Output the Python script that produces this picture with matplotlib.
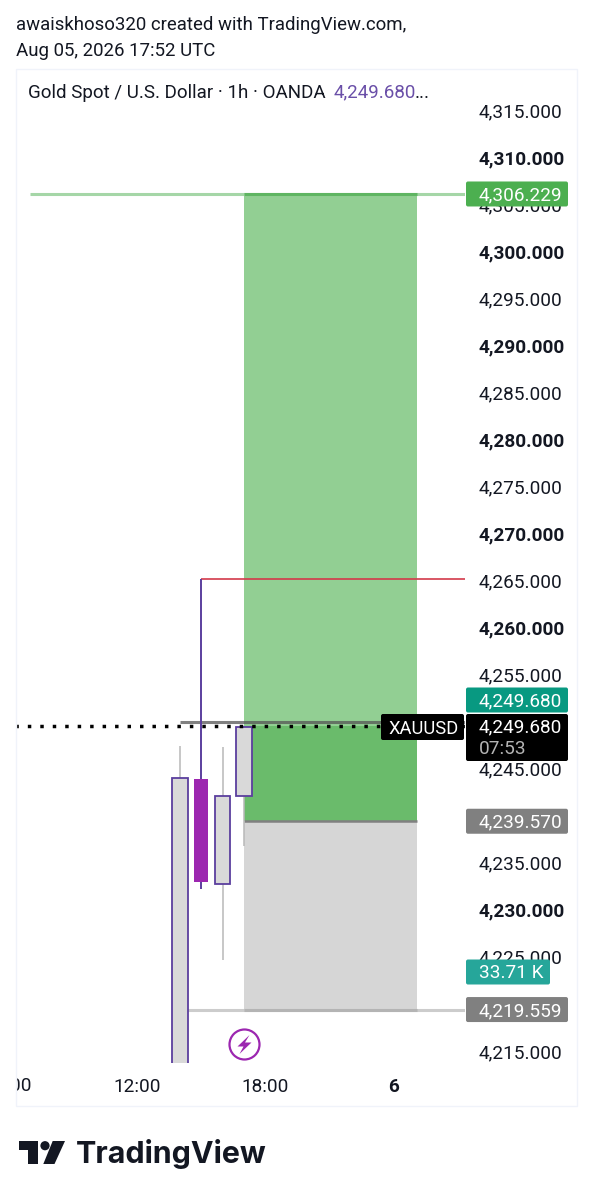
import matplotlib
matplotlib.use("Agg")
import matplotlib.pyplot as plt
from matplotlib.patches import FancyBboxPatch, Rectangle, Polygon, Circle
from matplotlib.transforms import Bbox, ScaledTranslation

plt.rcParams['font.family'] = ['Roboto', 'DejaVu Sans']

W, H = 592, 1200

# candles, hours since Aug 5 00:00
candle_hours = [14, 15, 16, 17]
opens = [4205.0, 4244.1, 4232.9, 4242.2]
closes = [4244.2, 4233.1, 4242.2, 4249.6]
highs = [4247.6, 4265.3, 4247.5, 4249.6]
lows = [4200.0, 4232.4, 4224.8, 4236.9]

price_ticks = list(range(4215, 4320, 5))
time_ticks = [12, 18, 24]
time_labels = ["12:00", "18:00", "6"]

target = 4306.229
entry = 4239.57
stop = 4219.559
last_price = 4249.68
prev_line = 4250.1
high_line = 4265.3
zone_start, zone_end = 17.0, 25.07

PURPLE = "#5b3f9e"
MAGENTA = "#9c27b0"
FS = 13.65

fig = plt.figure(figsize=(W / 100, H / 100), dpi=100, facecolor="white")


def px_axes(x0, y0, x1, y1):
    return fig.add_axes([x0 / W, 1 - y1 / H, (x1 - x0) / W, (y1 - y0) / H])


# pane goes from x 16 to the price scale at 465, bottom at 1063
ax = px_axes(16, 68, 465, 1063)
xlims = (12 + (16 - 137) / 21.4, 12 + (465 - 137) / 21.4)
ylims = (4310 - (1063 - 158.5) / 9.41, 4310 + (158.5 - 68) / 9.41)
for s in ax.spines.values():
    s.set_visible(False)

# position tool
ax.add_patch(Rectangle((zone_start, entry), zone_end - zone_start, target - entry,
                       fc="#92cf93", ec="none", zorder=1))
ax.add_patch(Rectangle((zone_start, stop), zone_end - zone_start, entry - stop,
                       fc="#d6d6d6", ec="none", zorder=1))
ax.add_patch(Rectangle((zone_start, entry), zone_end - zone_start, last_price - entry,
                       fc="#6abb6b", ec="none", zorder=1.1))

ax.hlines(target, 7, xlims[1], color="#a5d6a7", lw=2.2, zorder=1.5)
ax.hlines(target, zone_start, zone_end, color="#5fb562", lw=2.2, zorder=1.6)
ax.hlines(stop, 14, xlims[1], color="#cccccc", lw=2.2, zorder=1.5)
ax.hlines(stop, zone_start, zone_end, color="#b4b4b4", lw=2.2, zorder=1.6)
ax.hlines(entry, zone_start, zone_end, color="#808080", lw=1.8, zorder=1.6)
ax.hlines(prev_line, 14, xlims[1], color="#555555", lw=2.2, alpha=0.75, zorder=2)
ax.hlines(high_line, 15, xlims[1], color="#d3394a", lw=1.2, zorder=2)

# candles
for h, o, c, hi, lo in zip(candle_hours, opens, closes, highs, lows):
    top, bottom = max(o, c), min(o, c)
    if c < o:
        ax.vlines(h, top, hi, color=PURPLE, lw=1.4, zorder=3)
        ax.vlines(h, lo, bottom, color=PURPLE, lw=1.4, zorder=3)
        ax.bar(h, top - bottom, 0.64, bottom, color=MAGENTA, zorder=4)
    else:
        ax.vlines(h, top, hi, color="#b8b8b8", lw=1.1, zorder=3)
        ax.vlines(h, lo, bottom, color="#b8b8b8", lw=1.1, zorder=3)
        ax.bar(h, top - bottom, 0.72, bottom, fc="#d9d9d9", ec=PURPLE, lw=1.3, zorder=4)

ax.axhline(last_price, color="black", lw=2.5, ls=(0.33, (1, 2.59)), zorder=5)

# axes and tick labels
ax.yaxis.tick_right()
ax.set_yticks(price_ticks)
ax.set_yticklabels([f"{p:,.3f}" for p in price_ticks])
ax.tick_params(axis="y", length=0, pad=10, labelsize=FS, labelcolor="#131722")
up = ScaledTranslation(0, 1.5 / 100, fig.dpi_scale_trans)
for p, lab in zip(price_ticks, ax.get_yticklabels()):
    lab.set_transform(lab.get_transform() + up)
    if p % 10 == 0:
        lab.set_fontweight("bold")
ax.set_xticks(time_ticks)
ax.set_xticklabels(time_labels)
ax.tick_params(axis="x", length=0, pad=10.5, labelsize=FS, labelcolor="#131722")
ax.get_xticklabels()[2].set_fontweight("bold")
ax.set_xlim(*xlims)
ax.set_ylim(*ylims)

# the 06:00 label is cut by the left edge of the chart
cut = ax.text(6, -23 / 995, "06:00", transform=ax.get_xaxis_transform(), fontsize=FS,
              color="#131722", ha="center", va="center", clip_on=True)
cut.set_clip_box(Bbox([[16, 0], [W, H]]))

# overlay in pixel coordinates: frame, header, tags, logo
ov = fig.add_axes([0, 0, 1, 1], facecolor="none")
ov.set_xlim(0, W)
ov.set_ylim(H, 0)
ov.axis("off")


def price_y(p):
    return H - ax.transData.transform((xlims[0], p))[1]


ov.add_patch(Rectangle((15.5, 68.5), 561, 1037, fc="none", ec="#f0f3fa", lw=1))

ov.text(16, 25.5, "awaiskhoso320 created with TradingView.com,", fontsize=13.45,
        color="#131722", va="center")
ov.text(16, 51.5, "Aug 05, 2026 17:52 UTC", fontsize=13.45, color="#131722", va="center")
ov.text(28, 92.5, "Gold Spot / U.S. Dollar · 1h · OANDA", fontsize=13.5,
        color="#131722", va="center")
ov.text(334, 92.5, "4,249.680", fontsize=13.5, color="#6a4fa8", va="center")
ov.text(415, 92.5, "...", fontsize=13.5, color="#131722", va="center")


def tag(x0, x1, yc, text, color, h=25):
    ov.add_patch(FancyBboxPatch((x0 + 2, yc - h / 2 + 2), x1 - x0 - 4, h - 4,
                                boxstyle="round,pad=2,rounding_size=2", fc=color, ec="none"))
    ov.text(479, yc - 0.5, text, fontsize=FS, color="white", va="center_baseline")


tag(466, 568, price_y(target), f"{target:,.3f}", "#4caf50")
tag(466, 568, 700, f"{last_price:,.3f}", "#089981")
tag(466, 568, price_y(entry), f"{entry:,.3f}", "#808080")
tag(466, 550, 972, "33.71 K", "#26a69a")
tag(466, 568, price_y(stop), f"{stop:,.3f}", "#808080")

# last price box and symbol tag
ov.add_patch(FancyBboxPatch((468, 716), 98, 43, boxstyle="round,pad=2,rounding_size=2",
                            fc="black", ec="none"))
ov.text(479, 725.5, f"{last_price:,.3f}", fontsize=FS, color="white", va="center_baseline")
ov.text(479, 746.5, "07:53", fontsize=FS, color="#b4b4b4", va="center_baseline")
ov.add_patch(FancyBboxPatch((383, 716), 79, 22, boxstyle="round,pad=2,rounding_size=2",
                            fc="black", ec="none"))
ov.text(388, 727, "XAUUSD", fontsize=13.2, color="white", va="center_baseline")

# lightning badge
ov.add_patch(Circle((244.5, 1044.5), 15, fc="white", ec=MAGENTA, lw=1.6))
ov.add_patch(Polygon([(249.5, 1035), (237.5, 1046.5), (243.5, 1046.5), (239.5, 1054),
                      (251.5, 1042.5), (245, 1042.5)], fc=MAGENTA, ec="none"))

# logo
ov.add_patch(Polygon([(19, 1141), (37.5, 1141), (37.5, 1164), (28.3, 1164),
                      (28.3, 1149.5), (19, 1149.5)], fc="#131722", ec="none"))
ov.add_patch(Circle((45, 1145.7), 4.6, fc="#131722", ec="none"))
ov.add_patch(Polygon([(52.7, 1141), (65, 1141), (54.5, 1164), (43.3, 1164)],
                     fc="#131722", ec="none"))
ov.text(76, 1154, "TradingView", family=["Inter", "DejaVu Sans"], fontsize=21.9,
        fontweight="bold", color="#131722", va="center")

fig.savefig("out.png", dpi=100)
